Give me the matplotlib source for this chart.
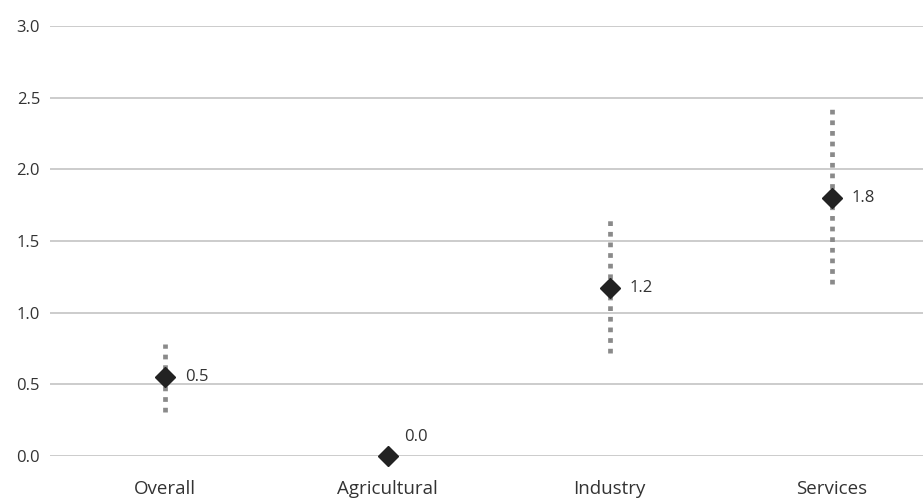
import matplotlib.pyplot as plt
import numpy as np

plt.rcParams['font.family'] = ['Open Sans', 'DejaVu Sans']

categories = ["Overall", "Agricultural", "Industry", "Services"]
estimates = [0.55, 0.0, 1.17, 1.80]
lower = [0.31, 0.0, 0.72, 1.20]
upper = [0.78, 0.0, 1.65, 2.42]
point_labels = ["0.5", "0.0", "1.2", "1.8"]

fig = plt.figure(figsize=(9.23, 4.98), dpi=100)
ax = fig.add_axes([0.054, 0.084, 0.946, 0.864])

x = np.arange(len(categories))

for i in range(len(categories)):
    if upper[i] > lower[i]:
        ax.plot([x[i], x[i]], [lower[i], upper[i]], color="#8a8a8a", lw=3.4,
                linestyle=(0, (1, 1.25)), solid_capstyle="butt",
                dash_capstyle="butt", zorder=2)

ax.plot(x, estimates, linestyle="none", marker="D", markersize=10,
        color="#222222", zorder=3, clip_on=False)

for i, lab in enumerate(point_labels):
    if estimates[i] == 0:
        ax.annotate(lab, (x[i], estimates[i]), xytext=(12, 8),
                    textcoords="offset points", ha="left", va="bottom",
                    fontsize=12, color="#333333")
    else:
        ax.annotate(lab, (x[i], estimates[i]), xytext=(14, 0),
                    textcoords="offset points", ha="left", va="center",
                    fontsize=12, color="#333333")

ax.set_xlim(-0.52, 3.41)
ax.set_ylim(0, 3.0)
ax.set_yticks(np.arange(0, 3.01, 0.5))
ax.set_yticklabels([f"{v:.1f}" for v in np.arange(0, 3.01, 0.5)])
ax.set_xticks(x)
ax.set_xticklabels(categories)
ax.tick_params(axis="both", length=0, labelcolor="#333333")
ax.tick_params(axis="y", pad=7, labelsize=12)
ax.tick_params(axis="x", pad=17, labelsize=13.5)
ax.grid(axis="y", color="#c4c4c4", lw=1.2, zorder=0)
ax.set_axisbelow(True)
for s in ax.spines.values():
    s.set_visible(False)

fig.savefig("out.png", dpi=100)
